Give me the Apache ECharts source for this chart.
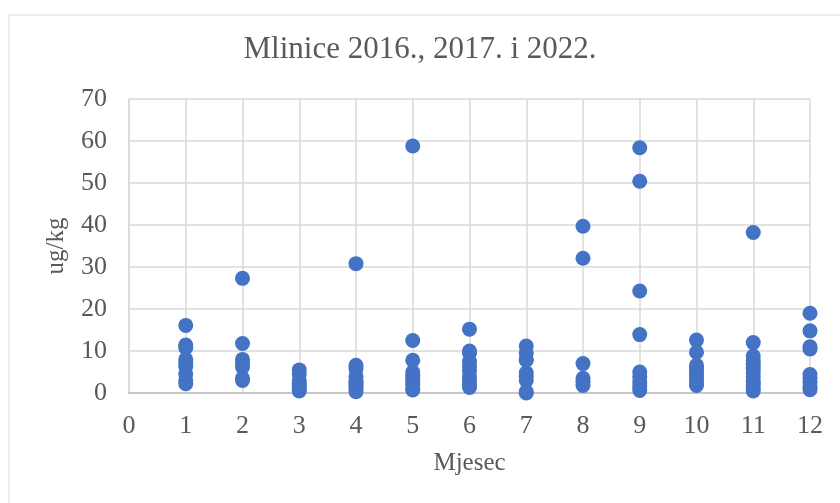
<!DOCTYPE html>
<html>
<head>
<meta charset="utf-8">
<script src="https://cdn.jsdelivr.net/npm/echarts@6/dist/echarts.min.js"></script>
<style>
    html, body { margin: 0; padding: 0; background: #fff; }
    #main { width: 840px; height: 503px; }
</style>
</head>
<body>
<div id="main"></div>
<script>
// mjerenja po mjesecima (ug/kg)
let m1 = [16.1, 11.4, 10.8, 8, 7.2, 6.3, 4.5, 3, 2.2];
let m2 = [27.3, 11.8, 8, 7.2, 6.2, 3.5, 3];
let m3 = [5.5, 4.5, 3, 2.2, 1.5, 1, 0.5];
let m4 = [30.8, 6.6, 5.8, 4, 3, 2.5, 2, 1.5, 1, 0.3];
let m5 = [58.8, 12.5, 7.8, 5, 4.2, 3.5, 2.8, 2, 1.2, 0.7];
let m6 = [15.2, 10, 9.5, 7.5, 6.3, 5.3, 4, 3, 2.2, 1.3];
let m7 = [11.2, 9.5, 8, 7.8, 4.8, 4, 3, 0.3, 0];
let m8 = [39.7, 32.1, 7, 3.5, 2.8, 1.8];
let m9 = [58.4, 50.4, 24.3, 13.9, 5, 3.8, 2.5, 1.5, 0.6];
let m10 = [12.6, 9.7, 6.6, 5.8, 5, 4.2, 3.4, 2.5, 1.8];
let m11 = [38.2, 12, 8.8, 7.8, 6.8, 5.8, 4.8, 3.8, 2.8, 2, 1.2, 0.5];
let m12 = [19, 14.8, 11, 10.5, 4.4, 3.5, 2.5, 1.5, 0.8];

let months = [m1, m2, m3, m4, m5, m6, m7, m8, m9, m10, m11, m12];

window.addEventListener('load', function() {
    let myChart = echarts.init(document.getElementById('main'));

    let points = [];
    months.forEach(function(vals, i) {
        vals.forEach(function(v) {
            points.push([i + 1, v]);
        });
    });

    let font = '"Liberation Serif", "Times New Roman", serif';

    let option = {
        animation: false,
        graphic: [{
            type: 'rect',
            shape: { x: 9, y: 15, width: 840, height: 500 },
            style: { fill: 'none', stroke: '#d9d9d9', lineWidth: 1 }
        }],
        title: {
            text: 'Mlinice 2016., 2017. i 2022.',
            left: 'center',
            top: 29,
            textStyle: {
                fontFamily: font,
                fontWeight: 'normal',
                fontSize: 31,
                color: '#595959'
            }
        },
        grid: {
            left: 129,
            right: 30,
            top: 99,
            bottom: 110
        },
        xAxis: {
            type: 'value',
            min: 0,
            max: 12,
            interval: 1,
            name: 'Mjesec',
            nameLocation: 'middle',
            nameGap: 58,
            nameTextStyle: {
                fontFamily: font,
                fontSize: 25,
                color: '#595959'
            },
            axisLine: { show: true, lineStyle: { color: '#bfbfbf', width: 1.5 } },
            axisTick: { show: false },
            axisLabel: {
                fontFamily: font,
                fontSize: 26,
                color: '#595959',
                margin: 20
            },
            splitLine: { show: true, lineStyle: { color: '#d9d9d9', width: 1.5 } }
        },
        yAxis: {
            type: 'value',
            min: 0,
            max: 70,
            interval: 10,
            name: 'ug/kg',
            nameLocation: 'middle',
            nameGap: 60,
            nameTextStyle: {
                fontFamily: font,
                fontSize: 25,
                color: '#595959'
            },
            axisLine: { show: true, lineStyle: { color: '#d9d9d9', width: 1.5 } },
            axisTick: { show: false },
            axisLabel: {
                fontFamily: font,
                fontSize: 26,
                color: '#595959',
                margin: 22
            },
            splitLine: { show: true, lineStyle: { color: '#d9d9d9', width: 1.5 } }
        },
        series: [{
            type: 'scatter',
            symbolSize: 15,
            clip: false,
            itemStyle: { color: '#4472c4', opacity: 1 },
            data: points
        }]
    };

    myChart.setOption(option);
});
</script>
</body>
</html>
